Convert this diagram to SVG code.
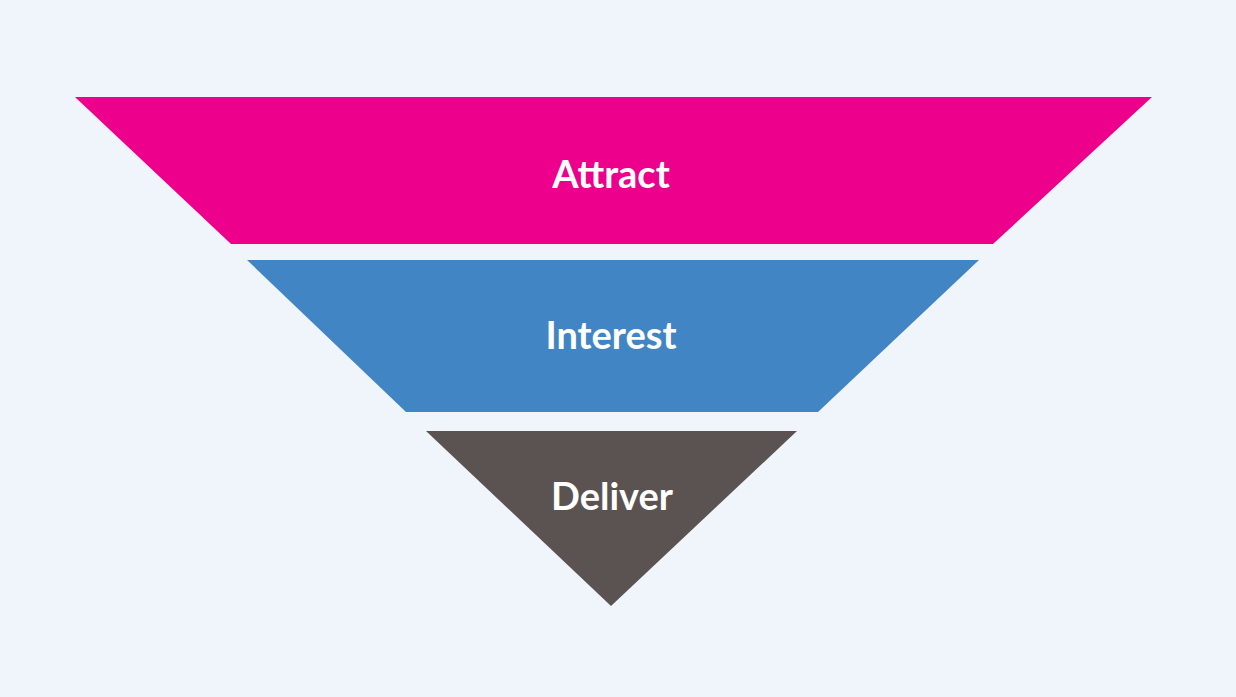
<svg xmlns="http://www.w3.org/2000/svg" width="1236" height="697" viewBox="0 0 1236 697">
<style>
.lbl{font-family:Lato,"Open Sans",sans-serif;font-weight:bold;font-size:38px;fill:#ffffff;text-anchor:middle}
</style>
<rect width="1236" height="697" fill="#f0f5fc"/>
<g id="attract">
<polygon points="75,97 1152,97 993,244 231,244" fill="#ec008c"/>
<text class="lbl" x="611" y="188">Attract</text>
</g>
<g id="interest">
<polygon points="247,260 979,260 818,412 406,412" fill="#4285c4"/>
<text class="lbl" x="611" y="349">Interest</text>
</g>
<g id="deliver">
<polygon points="426,431 797,431 611,606" fill="#5b5352"/>
<text class="lbl" x="612" y="510">Deliver</text>
</g>
<g id="connectors"/>
</svg>
